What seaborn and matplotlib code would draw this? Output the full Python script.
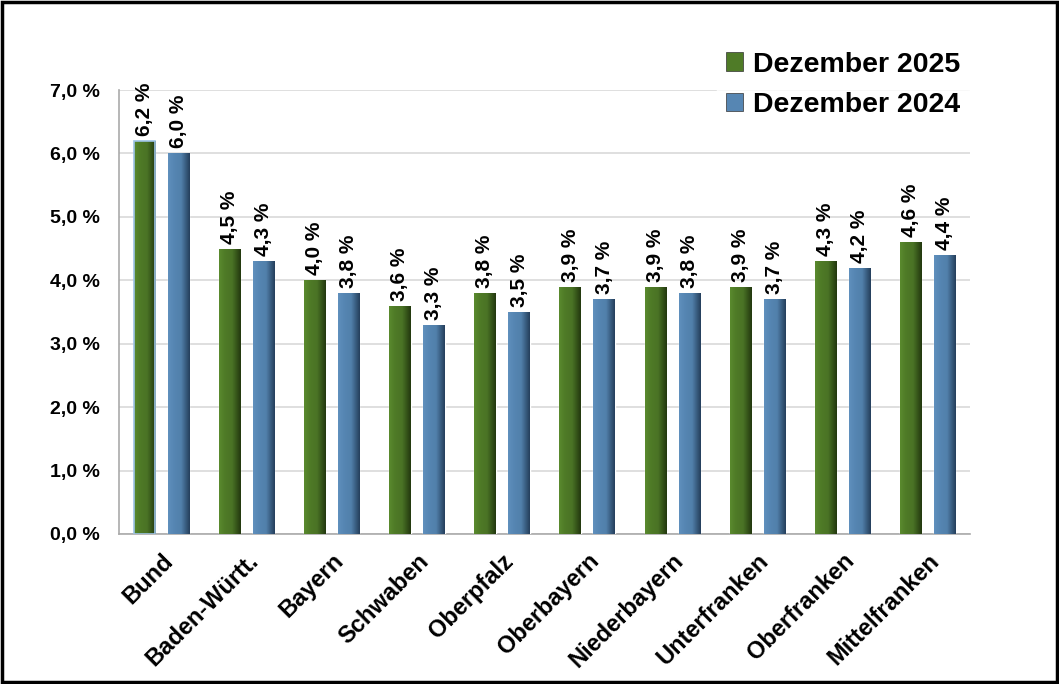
import numpy as np
import pandas as pd
import matplotlib
matplotlib.use("Agg")
import matplotlib.pyplot as plt
from matplotlib.colors import LinearSegmentedColormap
from matplotlib.patches import Rectangle
import seaborn as sns

# data
regions = ["Bund", "Baden-Württ.", "Bayern", "Schwaben", "Oberpfalz",
           "Oberbayern", "Niederbayern", "Unterfranken", "Oberfranken", "Mittelfranken"]
dez_2025 = [6.2, 4.5, 4.0, 3.6, 3.8, 3.9, 3.9, 3.9, 4.3, 4.6]
dez_2024 = [6.0, 4.3, 3.8, 3.3, 3.5, 3.7, 3.8, 3.7, 4.2, 4.4]
series = ["Dezember 2025", "Dezember 2024"]
y_ticks = [0, 1, 2, 3, 4, 5, 6, 7]

df = pd.DataFrame({
    "Region": regions * 2,
    "Wert": dez_2025 + dez_2024,
    "Reihe": [series[0]] * len(regions) + [series[1]] * len(regions),
})

green = "#4f7b27"
blue = "#5686b3"
shades = {green: ["#5a8a2e", "#4f7b27", "#4a7325", "#23380f"],
          blue: ["#6090bd", "#5686b3", "#5180ab", "#253f5c"]}

sns.set_style("white")
plt.rcParams["font.family"] = ["Liberation Sans", "DejaVu Sans"]
plt.rcParams["font.weight"] = "bold"
plt.rcParams["text.color"] = "black"
plt.rcParams["xtick.color"] = "black"
plt.rcParams["ytick.color"] = "black"

fig = plt.figure(figsize=(10.59, 6.84), dpi=100)
ax = fig.add_axes([0.1124, 0.2193, 0.8036, 0.6491])

sns.barplot(data=df, x="Region", y="Wert", hue="Reihe", order=regions,
            hue_order=series, palette=[green, blue], gap=0.375,
            saturation=1, legend=False, ax=ax, zorder=3)

ax.set_ylim(0, 7)
ax.set_xlim(-0.5, len(regions) - 0.5)
ax.set_yticks(y_ticks)
ax.set_yticklabels([f"{t:.1f} %".replace(".", ",") for t in y_ticks],
                   fontsize=14, fontweight="bold", color="black")
ax.set_xticks(range(len(regions)))
ax.set_xticklabels(regions, rotation=45, ha="right", rotation_mode="anchor",
                   fontsize=17, fontweight="bold", color="black")
ax.tick_params(axis="x", length=5, color="#999999", pad=6)
ax.tick_params(axis="y", length=0, pad=14)
ax.set_xlabel("")
ax.set_ylabel("")
ax.yaxis.grid(True, color="#d9d9d9", linewidth=1.2, zorder=0)
for s in ["top", "right"]:
    ax.spines[s].set_visible(False)
for s in ["left", "bottom"]:
    ax.spines[s].set_color("#aaaaaa")
    ax.spines[s].set_linewidth(1.2)

# gradient shading + value labels
for i, patch in enumerate(ax.patches):
    x, y = patch.get_x(), patch.get_y()
    w, h = patch.get_width(), patch.get_height()
    if h <= 0:
        continue
    fc = matplotlib.colors.to_hex(patch.get_facecolor())
    cmap = LinearSegmentedColormap.from_list(
        "g", list(zip([0, 0.25, 0.6, 1.0], shades.get(fc, [fc] * 4))))
    grad = np.linspace(0, 1, 64).reshape(1, -1)
    im = ax.imshow(grad, extent=[x, x + w, y, y + h], aspect="auto",
                   cmap=cmap, zorder=3.5, origin="lower")
    im.set_clip_path(patch)
    ax.text(x + w / 2, h + 0.08, f"{h:.1f} %".replace(".", ","),
            rotation=90, ha="center", va="bottom", fontsize=15,
            fontweight="bold", color="black", zorder=5)
    if i == 0:
        patch.set_edgecolor("#9dc3e6")
        patch.set_linewidth(1.2)
        patch.set_zorder(4)
        patch.set_facecolor("none")

ax.set_aspect("auto")
ax.set_xlim(-0.5, len(regions) - 0.5)
ax.set_ylim(0, 7)

# legend
handles = [Rectangle((0, 0), 1, 1, facecolor=c, edgecolor="#333333", linewidth=0.5)
           for c in [green, blue]]
leg = fig.legend(handles, series, loc="upper left", bbox_to_anchor=(0.664, 0.958),
                 frameon=True, fontsize=20.5, handlelength=0.6, handleheight=0.6,
                 handletextpad=0.35, labelspacing=0.5, borderpad=0.3)
leg.get_frame().set_facecolor("white")
leg.get_frame().set_edgecolor("white")
for t in leg.get_texts():
    t.set_fontweight("bold")
    t.set_color("black")

# figure frame
fig.patches.append(Rectangle((0.002, 0.003), 0.996, 0.994, transform=fig.transFigure,
                             fill=False, edgecolor="black", linewidth=2.5))

fig.savefig("out.png", dpi=100)
